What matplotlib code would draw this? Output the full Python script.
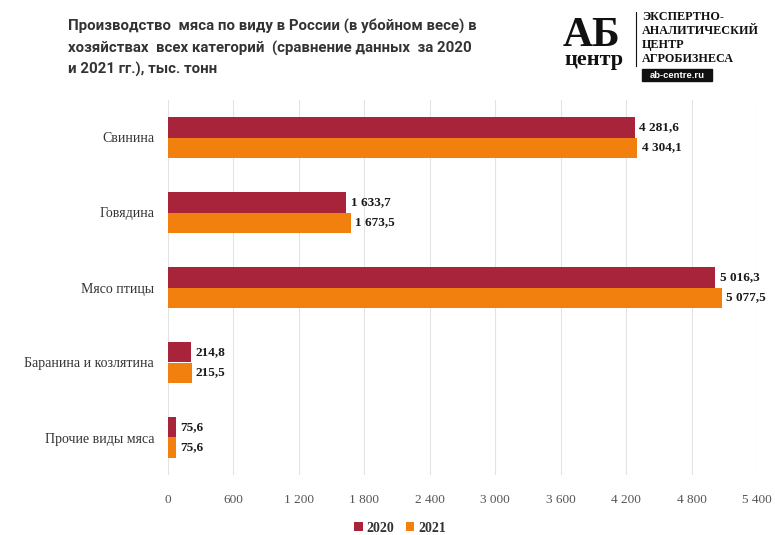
import numpy as np
import matplotlib
matplotlib.use("Agg")
import matplotlib.pyplot as plt
from matplotlib.patches import Rectangle

# data
categories = ["Свинина", "Говядина", "Мясо птицы", "Баранина и козлятина", "Прочие виды мяса"]
values_2020 = [4281.6, 1633.7, 5016.3, 214.8, 75.6]
values_2021 = [4304.1, 1673.5, 5077.5, 215.5, 75.6]
series_names = ["2020", "2021"]
x_ticks = [0, 600, 1200, 1800, 2400, 3000, 3600, 4200, 4800, 5400]

TITLE = ("Производство  мяса по виду в России (в убойном весе) в\n"
         "хозяйствах  всех категорий  (сравнение данных  за 2020\n"
         "и 2021 гг.), тыс. тонн")

C2020 = "#A8243A"
C2021 = "#F2800F"
SERIF = "Liberation Serif"


def fmt_ru(v, decimals=1):
    s = f"{v:,.{decimals}f}"
    return s.replace(",", " ").replace(".", ",")


fig = plt.figure(figsize=(7.75, 5.35), dpi=100)
fig.patch.set_facecolor("white")

ax = fig.add_axes([168 / 775, 1 - 475 / 535, 589 / 775, 375 / 535])

y = np.arange(len(categories))
h = 0.267
b1 = ax.barh(y - h / 2, values_2020, height=h, color=C2020, label=series_names[0])
b2 = ax.barh(y + h / 2, values_2021, height=h, color=C2021, label=series_names[1])

for bars, vals in [(b1, values_2020), (b2, values_2021)]:
    for bar, v in zip(bars, vals):
        ax.text(bar.get_width() + 40, bar.get_y() + bar.get_height() / 2,
                fmt_ru(v), va="center", ha="left", fontsize=9.5,
                fontweight="bold", family=SERIF, color="#1a1a1a")

ax.set_xlim(0, 5400)
ax.set_ylim(len(categories) - 0.5, -0.5)
ax.set_yticks(y)
ax.set_yticklabels(categories, family=SERIF, fontsize=10, color="#333333")
ax.set_xticks(x_ticks)
ax.set_xticklabels([fmt_ru(t, 0) for t in x_ticks], family=SERIF, fontsize=9.5,
                   color="#555555")
ax.tick_params(axis="both", length=0)
ax.tick_params(axis="x", pad=14)
ax.tick_params(axis="y", pad=10)
ax.grid(axis="x", color="#e3e3e3", lw=0.8)
ax.set_axisbelow(True)
for s in ax.spines.values():
    s.set_visible(False)

leg = fig.legend(handles=[b1, b2], labels=series_names, loc="center",
                 bbox_to_anchor=(400 / 775, 1 - 528 / 535), ncol=2, frameon=False,
                 handlelength=0.6, handleheight=0.6, handletextpad=0.3,
                 columnspacing=0.8, prop={"family": SERIF, "weight": "bold", "size": 10})
for t in leg.get_texts():
    t.set_color("#333333")

# title
fig.text(68 / 775, 1 - 19 / 535, TITLE, ha="left", va="top", fontsize=10.8,
         fontweight="bold", family="Roboto", color="#333333", linespacing=1.55)

# logo
fig.text(563 / 775, 1 - 46 / 535, "АБ", ha="left", va="baseline", fontsize=30,
         fontweight="bold", family=SERIF, color="#111111")
fig.text(564 / 775, 1 - 65 / 535, "центр", ha="left", va="baseline", fontsize=16,
         fontweight="bold", family=SERIF, color="#111111")
fig.add_artist(plt.Line2D([636 / 775, 636 / 775], [1 - 12 / 535, 1 - 66 / 535],
                          color="#111111", lw=0.8))
fig.text(642 / 775, 1 - 11 / 535, "ЭКСПЕРТНО-\nАНАЛИТИЧЕСКИЙ\nЦЕНТР\nАГРОБИЗНЕСА",
         ha="left", va="top", fontsize=8.7, fontweight="bold", family=SERIF,
         color="#111111", linespacing=1.22)
fig.add_artist(Rectangle((642 / 775, 1 - 81 / 535), 70 / 775, 12 / 535,
                         transform=fig.transFigure, color="#111111"))
fig.text(677 / 775, 1 - 75 / 535, "ab-centre.ru", ha="center", va="center",
         fontsize=6.8, fontweight="bold", family="Liberation Sans", color="white")

fig.savefig("out.png", dpi=100, facecolor="white")
